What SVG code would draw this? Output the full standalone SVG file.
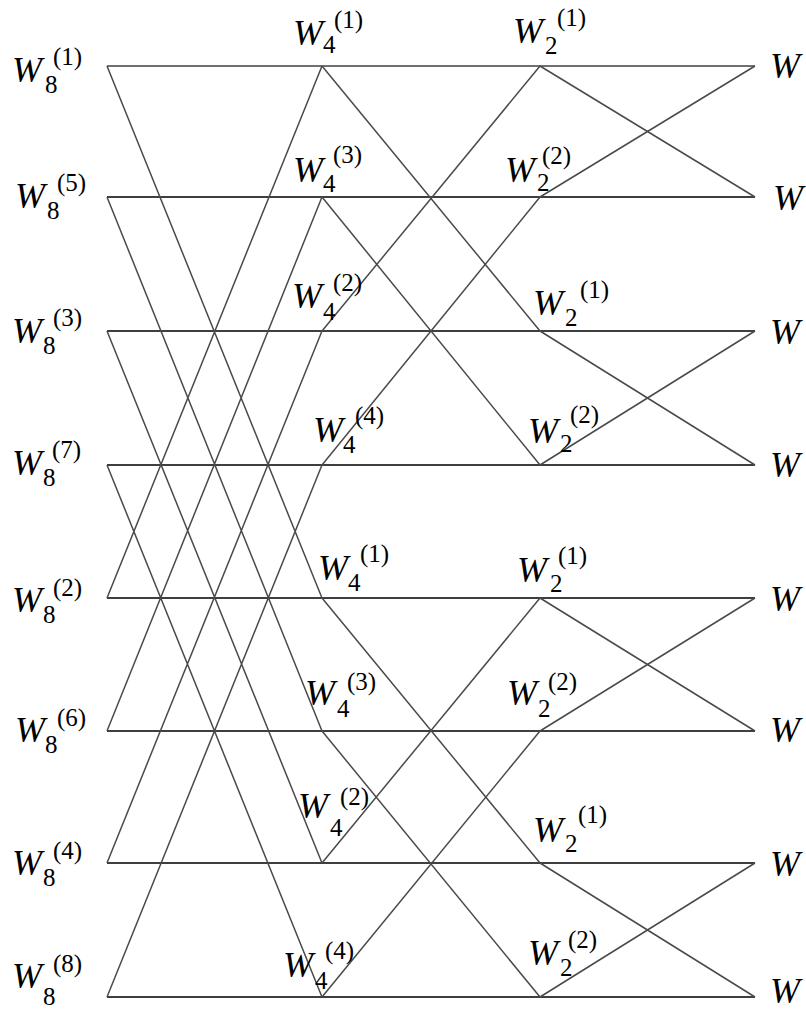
<svg xmlns="http://www.w3.org/2000/svg" width="806" height="1012" viewBox="0 0 806 1012" font-family="'Liberation Serif', 'Times New Roman', serif">
<style>
.w{font-family:'Liberation Serif','Times New Roman',serif;font-size:36px;font-style:italic;fill:#000}
.s{font-family:'Liberation Serif','Times New Roman',serif;font-size:25px;fill:#000}
.h{stroke:#000;stroke-width:1.7;fill:none}
.h0{stroke:#707070;stroke-width:2;fill:none}
.d{stroke:#4a4a4a;stroke-width:1.5;fill:none}
</style>
<rect width="806" height="1012" fill="#fff"/>
<g id="connectors">
<path class="h0" d="M107 66H755"/>
<path class="h" d="M107 197H755M107 331H755M107 465H755M107 598H755M107 731H755M107 863H755M107 997H755"/>
<path class="d" d="M107 66L322 598M107 197L322 731M107 331L322 863M107 465L322 997M107 598L322 66M107 731L322 197M107 863L322 331M107 997L322 465"/>
<path class="d" d="M322 66L540 331M322 331L540 66M322 197L540 465M322 465L540 197M322 598L540 863M322 863L540 598M322 731L540 997M322 997L540 731"/>
<path class="d" d="M540 66L755 197M540 197L755 66M540 331L755 465M540 465L755 331M540 598L755 731M540 731L755 598M540 863L755 997M540 997L755 863"/>
</g>
<g id="in0"><text class="w" x="12" y="82">W</text><text class="s" x="45" y="93">8</text><text class="s" x="53" y="65">(1)</text></g>
<g id="in1"><text class="w" x="15" y="208">W</text><text class="s" x="47" y="219">8</text><text class="s" x="57" y="191">(5)</text></g>
<g id="in2"><text class="w" x="12" y="343">W</text><text class="s" x="43" y="354">8</text><text class="s" x="53" y="326">(3)</text></g>
<g id="in3"><text class="w" x="12" y="475">W</text><text class="s" x="43" y="486">8</text><text class="s" x="52" y="458">(7)</text></g>
<g id="in4"><text class="w" x="12" y="612">W</text><text class="s" x="43" y="623">8</text><text class="s" x="53" y="596">(2)</text></g>
<g id="in5"><text class="w" x="15" y="742">W</text><text class="s" x="45" y="753">8</text><text class="s" x="57" y="726">(6)</text></g>
<g id="in6"><text class="w" x="12" y="875">W</text><text class="s" x="43" y="886">8</text><text class="s" x="53" y="859">(4)</text></g>
<g id="in7"><text class="w" x="12" y="988">W</text><text class="s" x="43" y="1005">8</text><text class="s" x="53" y="972">(8)</text></g>
<g id="s1n0"><text class="w" x="293" y="45">W</text><text class="s" x="323" y="53">4</text><text class="s" x="334" y="28">(1)</text></g>
<g id="s1n1"><text class="w" x="293" y="182">W</text><text class="s" x="323" y="192">4</text><text class="s" x="333" y="163">(3)</text></g>
<g id="s1n2"><text class="w" x="292" y="308">W</text><text class="s" x="323" y="320">4</text><text class="s" x="333" y="291">(2)</text></g>
<g id="s1n3"><text class="w" x="313" y="442">W</text><text class="s" x="343" y="453">4</text><text class="s" x="355" y="424">(4)</text></g>
<g id="s1n4"><text class="w" x="318" y="580">W</text><text class="s" x="348" y="591">4</text><text class="s" x="360" y="562">(1)</text></g>
<g id="s1n5"><text class="w" x="305" y="705">W</text><text class="s" x="337" y="717">4</text><text class="s" x="347" y="690">(3)</text></g>
<g id="s1n6"><text class="w" x="298" y="818">W</text><text class="s" x="330" y="836">4</text><text class="s" x="340" y="805">(2)</text></g>
<g id="s1n7"><text class="w" x="283" y="977">W</text><text class="s" x="315" y="989">4</text><text class="s" x="325" y="959">(4)</text></g>
<g id="s2n0"><text class="w" x="513" y="43">W</text><text class="s" x="545" y="54">2</text><text class="s" x="557" y="26">(1)</text></g>
<g id="s2n1"><text class="w" x="505" y="182">W</text><text class="s" x="537" y="191">2</text><text class="s" x="542" y="164">(2)</text></g>
<g id="s2n2"><text class="w" x="533" y="315">W</text><text class="s" x="565" y="326">2</text><text class="s" x="580" y="298">(1)</text></g>
<g id="s2n3"><text class="w" x="528" y="443">W</text><text class="s" x="560" y="452">2</text><text class="s" x="570" y="423">(2)</text></g>
<g id="s2n4"><text class="w" x="517" y="582">W</text><text class="s" x="550" y="592">2</text><text class="s" x="558" y="564">(1)</text></g>
<g id="s2n5"><text class="w" x="507" y="705">W</text><text class="s" x="538" y="717">2</text><text class="s" x="548" y="690">(2)</text></g>
<g id="s2n6"><text class="w" x="533" y="842">W</text><text class="s" x="565" y="852">2</text><text class="s" x="578" y="823">(1)</text></g>
<g id="s2n7"><text class="w" x="528" y="965">W</text><text class="s" x="560" y="976">2</text><text class="s" x="568" y="948">(2)</text></g>
<g id="out0"><text class="w" x="770" y="78">W</text></g>
<g id="out1"><text class="w" x="773" y="210">W</text></g>
<g id="out2"><text class="w" x="770" y="344">W</text></g>
<g id="out3"><text class="w" x="770" y="477">W</text></g>
<g id="out4"><text class="w" x="770" y="611">W</text></g>
<g id="out5"><text class="w" x="770" y="742">W</text></g>
<g id="out6"><text class="w" x="770" y="876">W</text></g>
<g id="out7"><text class="w" x="770" y="1003">W</text></g>
</svg>
